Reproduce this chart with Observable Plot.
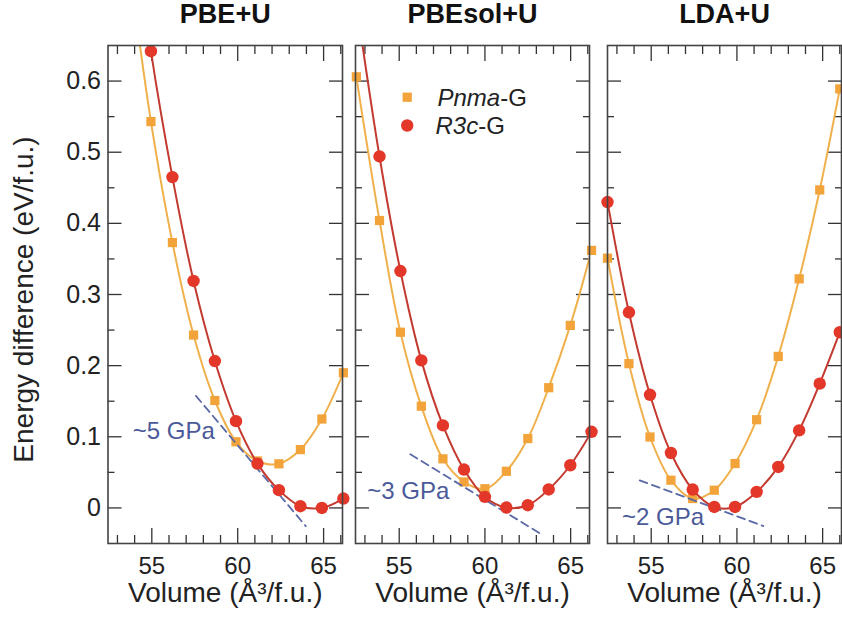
<!DOCTYPE html>
<html><head><meta charset="utf-8">
<script src="https://cdn.jsdelivr.net/npm/d3@7"></script>
<script src="https://cdn.jsdelivr.net/npm/@observablehq/plot@0.6"></script>
<style>
body{margin:0;background:#fff;}
#chart{position:relative;width:842px;height:626px;overflow:hidden;background:#fff;}
#chart svg{position:absolute;top:0;}
</style></head><body><div id="chart"></div>
<script>
// ---- data ----
const panelTitles = ["PBE+U", "PBEsol+U", "LDA+U"];
const seriesNames = ["Pnma-G", "R3c-G"];
const xLabel = "Volume (Å³/f.u.)";
const yLabel = "Energy difference (eV/f.u.)";
const xMajorTicks = [55, 60, 65];
const xMinorTicks = [53, 54, 56, 57, 58, 59, 61, 62, 63, 64, 66];
const yMajorTicks = [0, 0.1, 0.2, 0.3, 0.4, 0.5, 0.6];
const yMinorTicks = [0.05, 0.15, 0.25, 0.35, 0.45, 0.55];

const pbeVolume = [53.76, 54.95, 56.2, 57.43, 58.67, 59.9, 61.15, 62.4, 63.65, 64.9, 66.15];
const pbePnma   = [0.75, 0.543, 0.373, 0.243, 0.151, 0.093, 0.066, 0.062, 0.082, 0.125, 0.19];
const pbeR3c    = [0.86, 0.642, 0.465, 0.319, 0.2065, 0.122, 0.0623, 0.025, 0.0024, 0.0, 0.0132];

const pbesolVolume = [52.5, 53.85, 55.07, 56.29, 57.55, 58.78, 60.0, 61.25, 62.5, 63.72, 64.98, 66.22];
const pbesolPnma   = [0.606, 0.404, 0.247, 0.143, 0.069, 0.0365, 0.027, 0.0515, 0.0975, 0.169, 0.2566, 0.362];
const pbesolR3c    = [0.71, 0.494, 0.333, 0.2074, 0.116, 0.054, 0.0155, 0.0005, 0.0038, 0.026, 0.06, 0.107];

const ldaVolume = [52.45, 53.7, 54.93, 56.15, 57.42, 58.68, 59.89, 61.15, 62.41, 63.63, 64.83, 66.0];
const ldaPnma   = [0.351, 0.2028, 0.0997, 0.039, 0.0132, 0.0249, 0.0624, 0.124, 0.213, 0.322, 0.447, 0.589];
const ldaR3c    = [0.43, 0.275, 0.159, 0.0772, 0.0258, 0.0014, 0.0014, 0.0225, 0.0576, 0.109, 0.1747, 0.247];

const pbeTangentV = [57.57, 63.96];       const pbeTangentE = [0.1575, -0.0255];
const pbesolTangentV = [55.65, 63.31];    const pbesolTangentE = [0.0754, -0.0372];
const ldaTangentV = [54.33, 61.54];       const ldaTangentE = [0.0388, -0.0255];

const pressureLabels = ["~5 GPa", "~3 GPa", "~2 GPa"];
const pressureLabelV = [53.89, 53.14, 53.3];
const pressureLabelE = [0.108, 0.0238, -0.0128];

// ---- styling ----
const FONT = "'Liberation Sans', Arial, Helvetica, sans-serif";
const orangeFill = "#f2a33a", orangeLine = "#f0b04c";
const redFill = "#e3372a", redLine = "#c23a30";
const dashColor = "#5b6aa6", annColor = "#4b5a98";
const axisColor = "#333";

const panels = [
  {title: panelTitles[0], volume: pbeVolume, pnma: pbePnma, r3c: pbeR3c, tV: pbeTangentV, tE: pbeTangentE, li: 0,
   left: 0, mL: 107.5, mR: 10, w: 352, yText: true, legend: false},
  {title: panelTitles[1], volume: pbesolVolume, pnma: pbesolPnma, r3c: pbesolR3c, tV: pbesolTangentV, tE: pbesolTangentE, li: 1,
   left: 345, mL: 10, mR: 10, w: 254, yText: false, legend: true},
  {title: panelTitles[2], volume: ldaVolume, pnma: ldaPnma, r3c: ldaR3c, tV: ldaTangentV, tE: ldaTangentE, li: 2,
   left: 597, mL: 10, mR: 1, w: 245, yText: false, legend: false}
];

const chart = document.getElementById("chart");

panels.forEach(p => {
  const pn = p.volume.map((v, i) => ({v, e: p.pnma[i]}));
  const rc = p.volume.map((v, i) => ({v, e: p.r3c[i]}));
  const tan = p.tV.map((v, i) => ({v, e: p.tE[i]}));
  const ann = [{v: pressureLabelV[p.li], e: pressureLabelE[p.li], t: pressureLabels[p.li]}];
  const inFrame = d => d.e <= 0.65;

  const marks = [
    // ticks inward, on all four sides
    Plot.axisX({ticks: xMajorTicks, anchor: "bottom", tickSize: -15, fill: "none", label: null, stroke: axisColor, strokeWidth: 1.3}),
    Plot.axisX({ticks: xMinorTicks, anchor: "bottom", tickSize: -8, fill: "none", label: null, stroke: axisColor, strokeWidth: 1.3}),
    Plot.axisX({ticks: xMajorTicks, anchor: "top", tickSize: -15, fill: "none", label: null, stroke: axisColor, strokeWidth: 1.3}),
    Plot.axisX({ticks: xMinorTicks, anchor: "top", tickSize: -8, fill: "none", label: null, stroke: axisColor, strokeWidth: 1.3}),
    Plot.axisY({ticks: yMajorTicks, anchor: "left", tickSize: -14, fill: "none", label: null, stroke: axisColor, strokeWidth: 1.3}),
    Plot.axisY({ticks: yMinorTicks, anchor: "left", tickSize: -7, fill: "none", label: null, stroke: axisColor, strokeWidth: 1.3}),
    Plot.axisY({ticks: yMajorTicks, anchor: "right", tickSize: -14, fill: "none", label: null, stroke: axisColor, strokeWidth: 1.3}),
    Plot.axisY({ticks: yMinorTicks, anchor: "right", tickSize: -7, fill: "none", label: null, stroke: axisColor, strokeWidth: 1.3}),
    // tick labels
    Plot.axisX({ticks: xMajorTicks, anchor: "bottom", tickSize: 0, tickPadding: 13, fontSize: 24, label: null, fill: "#222", tickFormat: d => String(d)}),
    p.yText ? Plot.axisY({ticks: yMajorTicks, anchor: "left", tickSize: 0, tickPadding: 7, fontSize: 25, label: null, fill: "#222", tickFormat: d => String(d)}) : null,
    // curves
    Plot.line(pn, {x: "v", y: "e", curve: "catmull-rom", stroke: orangeLine, strokeWidth: 2, clip: true}),
    Plot.dot(pn.filter(inFrame), {x: "v", y: "e", symbol: "square", r: 5.2, fill: orangeFill}),
    Plot.line(tan, {x: "v", y: "e", stroke: dashColor, strokeWidth: 1.8, strokeDasharray: "8,5", clip: true}),
    Plot.line(rc, {x: "v", y: "e", curve: "catmull-rom", stroke: redLine, strokeWidth: 2, clip: true}),
    Plot.dot(rc.filter(inFrame), {x: "v", y: "e", symbol: "circle", r: 6.2, fill: redFill}),
    Plot.text(ann, {x: "v", y: "e", text: "t", textAnchor: "start", lineAnchor: "middle", fontSize: 24, fill: annColor}),
    Plot.frame({stroke: "#444", strokeWidth: 1.6}),
    // title and x label
    Plot.text([p.title], {frameAnchor: "top", lineAnchor: "middle", textAnchor: "middle", dy: -31, fontSize: 27, fontWeight: "bold", fill: "#111"}),
    Plot.text([xLabel], {frameAnchor: "bottom", lineAnchor: "middle", textAnchor: "middle", dy: 50, fontSize: 28, fill: "#222"})
  ];
  if (p.yText) {
    marks.push(Plot.text([yLabel], {frameAnchor: "left", rotate: -90, textAnchor: "middle", lineAnchor: "middle", dx: -83.5, dy: 5, fontSize: 28, fill: "#222"}));
  }
  if (p.legend) {
    marks.push(
      Plot.dot([seriesNames[0]], {frameAnchor: "top-left", dx: 51.7, dy: 51.7, symbol: "square", r: 5.2, fill: orangeFill}),
      Plot.dot([seriesNames[1]], {frameAnchor: "top-left", dx: 51.7, dy: 80, symbol: "circle", r: 6.2, fill: redFill}),
      Plot.text([seriesNames[0]], {frameAnchor: "top-left", lineAnchor: "middle", dx: 82, dy: 53, textAnchor: "start", fontSize: 24, fill: "#222"}),
      Plot.text([seriesNames[1]], {frameAnchor: "top-left", lineAnchor: "middle", dx: 80, dy: 81, textAnchor: "start", fontSize: 24, fill: "#222"})
    );
  }

  const svg = Plot.plot({
    width: p.w, height: 626,
    marginLeft: p.mL, marginRight: p.mR, marginTop: 45, marginBottom: 83,
    x: {domain: [52.45, 66.1]},
    y: {domain: [-0.05, 0.65]},
    style: {fontFamily: FONT, background: "transparent", overflow: "visible", color: axisColor},
    marks
  });
  svg.style.left = p.left + "px";
  chart.appendChild(svg);

  // italic space-group symbols in the legend
  if (p.legend) {
    svg.querySelectorAll("text").forEach(t => {
      const s = t.textContent;
      if (s === seriesNames[0] || s === seriesNames[1]) {
        const [grp, rest] = s.split("-");
        t.textContent = "";
        const a = document.createElementNS("http://www.w3.org/2000/svg", "tspan");
        a.setAttribute("font-style", "italic"); a.textContent = grp;
        const b = document.createElementNS("http://www.w3.org/2000/svg", "tspan");
        b.textContent = "-" + rest;
        t.appendChild(a); t.appendChild(b);
      }
    });
  }
});
</script></body></html>
